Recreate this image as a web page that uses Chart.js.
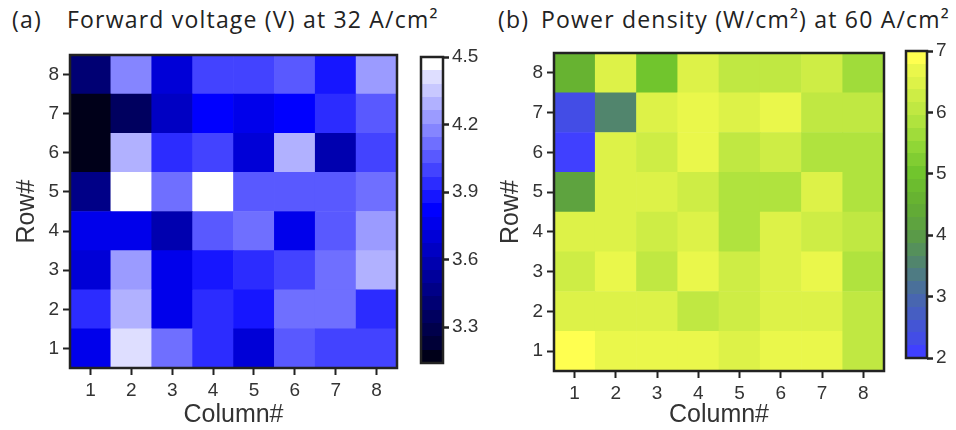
<!DOCTYPE html>
<html>
<head>
<meta charset="utf-8">
<script src="https://cdn.jsdelivr.net/npm/chart.js@4/dist/chart.umd.min.js"></script>
<style>
  html, body { margin: 0; padding: 0; background: #fff; }
  body { width: 956px; height: 430px; position: relative; overflow: hidden; }
  canvas { position: absolute; top: 0; }
  .ttl { position: absolute; font-family: "Open Sans", Lato, sans-serif; font-size: 23px; letter-spacing: 1.2px; color: #222; white-space: nowrap; line-height: 1; }
</style>
</head>
<body>
<div class="ttl" style="left:12px; top:8px;">(a)</div>
<div class="ttl" style="left:67px; top:8px;">Forward voltage (V) at 32 A/cm²</div>
<div class="ttl" style="left:498px; top:8px;">(b)</div>
<div class="ttl" style="left:541px; top:8px;">Power density (W/cm²) at 60 A/cm²</div>

<canvas id="heatA" width="415" height="430" style="left:0px"></canvas>
<canvas id="barA" width="100" height="430" style="left:405px"></canvas>
<canvas id="heatB" width="430" height="430" style="left:480px"></canvas>
<canvas id="barB" width="66" height="430" style="left:890px"></canvas>

<script>
// ---------- data ----------
const columns = ['1', '2', '3', '4', '5', '6', '7', '8'];
const rows = [1, 2, 3, 4, 5, 6, 7, 8];

// (a) Forward voltage (V) at 32 A/cm2, one array per row, columns 1..8
const voltageRow1 = [3.76, 4.41, 4.09, 3.91, 3.68, 4.07, 4.02, 3.98];
const voltageRow2 = [3.91, 4.30, 3.79, 3.91, 3.90, 4.11, 4.11, 3.94];
const voltageRow3 = [3.68, 4.22, 3.79, 3.87, 3.94, 3.98, 4.11, 4.31];
const voltageRow4 = [3.76, 3.76, 3.59, 4.05, 4.09, 3.78, 4.07, 4.26];
const voltageRow5 = [3.46, 4.50, 4.09, 4.50, 4.03, 4.07, 4.03, 4.11];
const voltageRow6 = [3.14, 4.30, 3.95, 3.99, 3.70, 4.31, 3.59, 4.02];
const voltageRow7 = [3.14, 3.34, 3.65, 3.81, 3.74, 3.80, 3.93, 4.06];
const voltageRow8 = [3.40, 4.16, 3.71, 3.99, 3.99, 4.06, 3.90, 4.26];

// (b) Power density (W/cm2) at 60 A/cm2, one array per row, columns 1..8
const powerRow1 = [7.00, 6.60, 6.75, 6.75, 6.50, 6.60, 6.75, 6.00];
const powerRow2 = [6.40, 6.40, 6.40, 6.10, 6.30, 6.40, 6.40, 6.00];
const powerRow3 = [6.20, 6.75, 6.00, 6.60, 6.20, 6.40, 6.60, 5.80];
const powerRow4 = [6.40, 6.40, 6.30, 6.40, 5.80, 6.40, 6.30, 6.10];
const powerRow5 = [4.10, 6.40, 6.40, 6.30, 5.90, 5.90, 6.40, 5.80];
const powerRow6 = [2.10, 6.40, 6.30, 6.70, 6.10, 6.20, 5.90, 5.80];
const powerRow7 = [2.30, 3.50, 6.50, 6.60, 6.40, 6.70, 6.10, 6.00];
const powerRow8 = [4.50, 6.40, 5.10, 6.40, 6.10, 6.10, 6.30, 5.70];

// colour-bar tick labels
const voltageTicks = [3.3, 3.6, 3.9, 4.2, 4.5];
const powerTicks = [2, 3, 4, 5, 6, 7];

const voltageRows = [voltageRow1, voltageRow2, voltageRow3, voltageRow4, voltageRow5, voltageRow6, voltageRow7, voltageRow8];
const powerRows = [powerRow1, powerRow2, powerRow3, powerRow4, powerRow5, powerRow6, powerRow7, powerRow8];

// ---------- colour maps ----------
const mapA = {
  min: 3.14, max: 4.5, levels: 23,
  stops: [[3.14, [0, 0, 25]], [3.82, [0, 0, 255]], [4.5, [255, 255, 255]]]
};
const mapB = {
  min: 2, max: 7, levels: 24,
  stops: [
    [2.0, [64, 64, 255]], [2.5, [68, 84, 215]], [3.0, [72, 105, 170]], [3.5, [80, 130, 115]],
    [4.0, [90, 155, 70]], [4.5, [100, 175, 50]], [5.0, [112, 196, 45]], [5.5, [148, 216, 55]],
    [6.0, [188, 231, 65]], [6.5, [222, 242, 72]], [7.0, [255, 255, 80]]
  ]
};

function interp(map, v) {
  const s = map.stops;
  if (v <= s[0][0]) return s[0][1];
  for (let i = 1; i < s.length; i++) {
    if (v <= s[i][0]) {
      const f = (v - s[i - 1][0]) / (s[i][0] - s[i - 1][0]);
      return s[i - 1][1].map((c, k) => Math.round(c + f * (s[i][1][k] - c)));
    }
  }
  return s[s.length - 1][1];
}
function levelColor(map, idx) {
  let v;
  if (idx === 0) v = map.min;
  else if (idx === map.levels - 1) v = map.max;
  else v = map.min + ((idx + 0.5) / map.levels) * (map.max - map.min);
  const c = interp(map, v);
  return `rgb(${c[0]},${c[1]},${c[2]})`;
}
function valueColor(map, v) {
  let t = (v - map.min) / (map.max - map.min);
  t = Math.max(0, Math.min(1, t));
  const idx = Math.min(map.levels - 1, Math.floor(t * map.levels));
  return levelColor(map, idx);
}

// ---------- common pieces ----------
const INK = '#222';
const TXT = '#333';
const FONT = "'Liberation Sans', Arial, sans-serif";

const framePlugin = {
  id: 'frame',
  afterDatasetsDraw(chart) {
    const { ctx, chartArea: a } = chart;
    ctx.save();
    ctx.strokeStyle = INK;
    ctx.lineWidth = 2.5;
    ctx.strokeRect(a.left, a.top, a.right - a.left, a.bottom - a.top);
    ctx.restore();
  }
};

function heatmap(canvasId, valueRows, map, pad, yWidth, xHeight, yTitlePad) {
  const datasets = rows.map((r, ri) => ({
    data: valueRows[ri].map(() => [r - 0.5, r + 0.5]),
    backgroundColor: valueRows[ri].map(v => valueColor(map, v)),
    borderWidth: 0,
    barPercentage: 1,
    categoryPercentage: 1,
    grouped: false
  }));
  return new Chart(document.getElementById(canvasId), {
    type: 'bar',
    data: { labels: columns, datasets },
    options: {
      responsive: false,
      animation: false,
      devicePixelRatio: 1,
      layout: { padding: pad },
      plugins: { legend: { display: false }, tooltip: { enabled: false }, title: { display: false } },
      scales: {
        x: {
          type: 'category',
          offset: true,
          grid: { offset: false, drawOnChartArea: false, drawTicks: true, tickLength: 7, tickWidth: 2, tickColor: INK },
          border: { display: false },
          ticks: { font: { family: FONT, size: 19 }, color: TXT, padding: 4, maxRotation: 0 },
          title: { display: true, text: 'Column#', color: TXT, font: { family: FONT, size: 25, lineHeight: 1.2 }, padding: { top: 0, bottom: 0 } },
          afterFit: s => { s.height = xHeight; }
        },
        y: {
          type: 'linear',
          min: 0.5, max: 8.5,
          afterBuildTicks: s => { s.ticks = rows.map(v => ({ value: v })); },
          grid: { drawOnChartArea: false, drawTicks: true, tickLength: 7, tickWidth: 2, tickColor: INK },
          border: { display: false },
          ticks: { font: { family: FONT, size: 19 }, color: TXT, padding: 4 },
          title: { display: true, text: 'Row#', color: TXT, font: { family: FONT, size: 25, lineHeight: 1.2 }, padding: { top: yTitlePad, bottom: 0 } },
          afterFit: s => { s.width = yWidth; }
        }
      }
    },
    plugins: [framePlugin]
  });
}

function colorbar(canvasId, map, tickValues, pad, yWidth) {
  return new Chart(document.getElementById(canvasId), {
    type: 'bar',
    data: {
      labels: [''],
      datasets: [{
        data: [[map.min, map.max]],
        barPercentage: 1,
        categoryPercentage: 1,
        borderWidth: 0,
        backgroundColor: (ctx) => {
          const chart = ctx.chart;
          if (!chart.chartArea || !chart.scales.y) return 'rgba(0,0,0,0)';
          const ys = chart.scales.y;
          const y0 = ys.getPixelForValue(map.min);
          const y1 = ys.getPixelForValue(map.max);
          const g = chart.ctx.createLinearGradient(0, y0, 0, y1);
          for (let i = 0; i < map.levels; i++) {
            const c = levelColor(map, i);
            g.addColorStop(i / map.levels, c);
            g.addColorStop((i + 1) / map.levels, c);
          }
          return g;
        }
      }]
    },
    options: {
      responsive: false,
      animation: false,
      devicePixelRatio: 1,
      layout: { padding: pad },
      plugins: { legend: { display: false }, tooltip: { enabled: false } },
      scales: {
        x: { type: 'category', display: false },
        y: {
          type: 'linear',
          position: 'right',
          min: map.min, max: map.max,
          afterBuildTicks: s => { s.ticks = tickValues.map(v => ({ value: v })); },
          grid: { drawOnChartArea: false, drawTicks: true, tickLength: 6, tickWidth: 2.5, tickColor: INK },
          border: { display: false },
          ticks: { font: { family: FONT, size: 19 }, color: TXT, padding: 3, callback: (v) => tickValues.includes(v) ? String(v) : '' },
          afterFit: s => { s.width = yWidth; }
        }
      }
    },
    plugins: [framePlugin]
  });
}

// (a) heatmap: chart area x 70..397, y 55..368
heatmap('heatA', voltageRows, mapA, { top: 55, right: 18, left: 0, bottom: 0 }, 70, 62, 12);
// (a) colour bar: x 421..443, y 57..363
colorbar('barA', mapA, voltageTicks, { top: 57, bottom: 67, left: 16, right: 0 }, 62);
// (b) heatmap: chart area x 554..884, y 53..371
heatmap('heatB', powerRows, mapB, { top: 53, right: 26, left: 0, bottom: 0 }, 74, 59, 16);
// (b) colour bar: x 906..927, y 51..358
colorbar('barB', mapB, powerTicks, { top: 51, bottom: 72, left: 16, right: 0 }, 29);
</script>
</body>
</html>
